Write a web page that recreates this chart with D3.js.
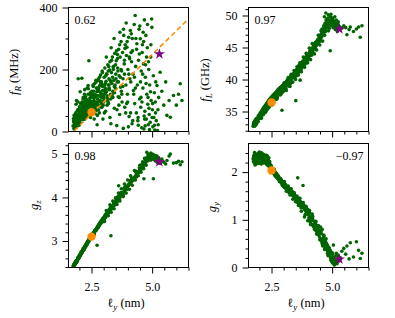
<!DOCTYPE html>
<html><head><meta charset="utf-8">
<script src="https://cdn.jsdelivr.net/npm/d3@7"></script>
<style>body{margin:0;background:#fff} text{font-family:"Liberation Serif","DejaVu Serif",serif;fill:#000}</style>
</head><body><svg id="c" width="395" height="318"></svg>
<script>
// shared x: l_y (nm)
const ly = [1.74,1.76,1.78,1.79,1.81,1.82,1.84,1.85,1.86,1.88,
1.89,1.90,1.92,1.93,1.95,1.96,1.97,1.99,2.00,2.01,
2.03,2.04,2.05,2.07,2.08,2.10,2.11,2.12,2.14,2.15,
2.17,2.18,2.19,2.21,2.22,2.24,2.25,2.26,2.28,2.29,
2.31,2.32,2.33,2.35,2.36,2.38,2.39,2.40,2.42,2.43,
2.45,2.46,2.48,2.49,2.51,2.52,2.54,2.55,2.57,2.58,
2.60,2.61,2.63,2.64,2.66,2.67,2.69,2.70,2.72,2.73,
2.75,2.76,2.78,2.79,2.81,2.82,2.84,2.85,2.87,2.88,
2.90,2.91,2.93,2.94,2.96,2.97,2.99,3.00,3.02,3.03,
3.05,3.06,3.08,3.10,3.12,3.13,3.15,3.17,3.19,3.20,
3.22,3.24,3.26,3.28,3.30,3.32,3.34,3.36,3.38,3.40,
3.42,3.44,3.46,3.48,3.50,3.52,3.54,3.56,3.58,3.60,
3.62,3.64,3.66,3.68,3.70,3.72,3.74,3.76,3.78,3.80,
3.83,3.85,3.87,3.89,3.92,3.94,3.96,3.98,4.00,4.03,
4.05,4.07,4.10,4.12,4.14,4.17,4.19,4.21,4.23,4.26,
4.28,4.30,4.32,4.35,4.37,4.39,4.41,4.44,4.46,4.48,
4.51,4.53,4.55,4.57,4.59,4.62,4.64,4.66,4.68,4.70,
4.72,4.74,4.76,4.78,4.80,4.82,4.84,4.86,4.88,4.90,
4.92,4.94,4.96,4.98,4.99,5.01,5.03,5.05,5.07,5.09,
5.11,5.13,5.15,5.17,5.20,5.22,5.24,5.27,5.33,5.40,
5.48,5.56,5.61,5.70,5.75,5.88,6.00,6.09,6.16,6.23,
1.77,1.83,1.80,1.87,1.91,1.78,1.94,1.85,1.98,1.82,
2.02,2.09,1.96,2.13,2.06,2.19,2.00,2.16,2.23,2.11,
2.27,2.34,2.21,2.41,2.30,2.47,2.37,2.24,2.44,2.32,
2.53,2.59,2.50,2.65,2.56,2.71,2.62,2.77,2.68,2.74,
2.80,2.86,2.83,2.92,2.89,2.98,2.95,3.04,3.01,2.78,
3.09,3.14,3.07,3.21,3.18,3.27,3.23,3.33,3.29,3.37,
3.41,3.47,3.53,3.45,3.59,3.63,3.57,3.69,3.75,3.66,
3.82,3.91,3.86,3.97,4.08,4.02,4.15,4.24,4.33,4.42,
4.47,4.58,4.63,4.71,4.77,4.83,4.89,4.95,5.02,5.10,
4.52,4.60,4.67,4.73,4.81,4.87,4.93,5.00,5.14,5.25,
1.76,1.81,1.86,1.90,1.94,1.99,2.03,2.07,2.12,2.16,
2.20,2.23,2.27,2.31,2.36,2.40,2.44,2.48,2.53,2.57,
2.61,2.65,2.70,2.74,2.78,2.83,2.87,2.91,2.95,3.00,
3.04,3.08,3.12,3.16,3.21,3.25,3.30,3.35,3.39,3.44,
3.51,3.57,3.64,3.72,3.79,3.88,3.95,4.04,4.13,4.20,
3.03,3.11,3.19,3.26,3.31,3.38,3.43,3.49,3.55,3.61,
3.67,3.73,3.81,3.86,3.93,3.99,4.06,4.11,4.18,4.27,
4.31,4.36,4.43,4.49,4.54,4.61,4.65,4.69,4.75,4.85,
1.79,1.84,1.88,1.93,1.97,2.02,2.06,2.10,2.15,2.18,
2.22,2.26,2.30,2.34,2.38,2.42,2.47,2.51,2.56,2.60,
2.64,2.71,2.79,2.86,2.93,3.01,3.07,3.14,3.22,3.29];

// f_R (MHz)
const fR = [18,35,52,12,28,45,22,60,38,100,
15,48,30,70,170,42,25,58,80,36,
65,50,90,44,72,172,55,85,38,105,
68,48,95,75,135,60,88,112,52,78,
98,140,66,84,120,58,228,92,74,108,
125,45,96,82,130,70,110,62,145,88,
100,40,155,75,118,92,160,68,128,22,
105,140,85,170,115,60,148,98,182,125,
78,160,110,195,132,40,150,95,175,120,
205,140,65,162,128,185,108,215,150,90,
170,135,225,118,25,190,155,240,130,200,
165,75,252,140,185,228,19,160,205,112,
265,180,55,240,143,290,195,95,255,170,
310,218,78,280,150,245,272,120,200,304,
48,235,326,160,315,25,260,185,132,345,
90,374,210,60,283,150,35,230,330,105,
299,78,195,12,255,140,218,8,360,65,
175,310,40,120,270,88,22,200,55,150,
30,240,100,363,336,70,15,180,45,125,
5,95,160,35,148,3,70,110,191,130,
85,160,52,100,46,116,85,120,154,100,
30,55,20,42,66,8,50,35,72,48,
62,40,28,88,75,58,45,110,70,95,
100,65,120,85,45,115,138,78,60,102,
95,130,58,112,150,88,72,135,165,52,
140,100,175,120,155,85,190,130,108,165,
180,115,155,210,95,165,140,230,120,175,
210,150,260,125,195,85,235,175,120,280,
330,60,230,290,170,15,225,120,300,45,
250,95,320,18,240,110,6,280,90,20,
160,280,50,215,345,75,128,45,60,22,
42,25,88,32,95,20,128,55,68,48,
82,108,62,90,148,78,100,68,120,85,
108,80,140,115,95,128,160,90,145,112,
150,125,185,100,138,198,160,118,208,145,
170,248,110,200,145,268,90,185,255,35,
60,240,195,45,270,110,300,215,70,160,
320,130,10,185,350,95,240,60,300,175,
140,265,20,340,110,185,290,40,155,225,
10,32,25,52,40,30,60,45,78,62,
40,65,55,95,72,48,88,55,78,118,
58,95,70,112,78,100,135,85,150,105];

// f_L (GHz)
const fL = [32.7,33.0,33.3,32.9,33.2,33.6,33.1,33.8,33.4,33.9,
33.3,33.7,33.5,34.0,34.3,33.8,34.1,34.4,34.2,34.6,
34.0,34.8,34.5,34.9,34.4,35.0,35.2,34.7,35.4,35.0,
35.5,35.1,35.7,35.3,35.8,35.6,36.0,35.4,36.1,35.9,
36.3,35.7,36.4,36.0,36.6,36.2,36.8,36.5,36.9,36.3,
37.0,36.7,37.2,36.6,37.3,37.0,37.4,36.9,37.6,37.1,
37.5,37.0,37.8,37.3,37.9,37.5,38.0,37.6,38.2,37.4,
38.0,38.4,37.9,38.5,38.2,38.0,38.7,38.3,38.8,38.5,
38.2,38.9,35.2,39.0,38.7,38.5,39.2,38.8,39.4,39.0,
39.5,39.2,38.9,39.6,39.3,39.8,39.5,40.0,39.7,39.4,
40.1,39.9,40.3,40.0,39.6,40.5,40.2,40.7,40.4,40.9,
40.6,40.3,41.1,40.8,36.7,41.0,40.6,41.3,40.9,41.5,
41.2,41.7,41.4,39.9,42.0,41.8,42.3,42.0,42.6,42.3,
42.9,42.5,43.0,42.7,43.3,43.0,43.6,43.2,43.8,43.4,
44.1,43.7,44.4,44.0,44.6,44.3,44.9,44.5,45.2,44.8,
45.4,45.0,45.7,45.3,46.0,45.6,46.2,45.8,46.5,46.1,
46.8,46.4,47.1,46.7,47.4,47.0,47.7,47.3,49.8,47.6,
48.3,50.4,48.0,48.6,49.5,48.2,50.1,48.8,49.2,48.5,
44.5,49.0,48.7,49.4,48.4,48.9,49.6,48.1,49.1,48.6,
49.8,47.8,48.8,49.3,48.3,47.5,48.6,47.9,48.2,48.0,
48.4,48.1,47.0,47.8,48.2,47.5,47.9,48.2,46.6,48.4,
33.2,33.5,32.7,33.0,33.9,33.3,33.4,33.6,34.2,32.8,
34.5,34.0,34.1,35.0,33.9,35.3,34.4,34.5,34.8,34.9,
35.0,36.0,35.4,35.7,35.8,36.0,36.2,34.9,36.5,35.3,
36.9,36.4,36.0,37.5,37.1,36.9,37.4,38.0,37.6,37.1,
38.1,37.6,38.3,38.6,37.7,38.9,38.0,39.3,38.2,38.0,
38.6,39.7,39.3,39.0,40.0,39.3,40.2,39.6,40.5,40.6,
40.8,40.2,41.5,41.1,40.9,42.1,41.7,41.4,42.7,42.2,
42.2,43.5,43.2,42.9,44.4,44.0,43.8,45.3,44.7,46.3,
46.9,47.9,47.2,48.8,49.0,49.6,48.0,50.2,49.3,48.3,
46.0,47.6,48.1,47.5,48.9,49.2,49.8,48.6,48.5,49.0,
33.1,33.4,33.0,33.9,33.4,34.4,34.6,34.1,35.1,34.6,
35.4,35.0,35.7,36.1,35.5,36.4,36.1,36.8,36.3,37.0,
37.3,36.9,37.8,37.3,38.0,38.4,37.9,38.5,38.9,38.4,
39.1,38.7,39.4,39.8,39.2,40.0,39.8,40.3,40.7,40.5,
41.4,40.8,42.3,41.6,42.9,42.4,43.9,43.2,44.8,44.1,
39.5,38.3,40.3,38.9,40.8,39.6,41.4,40.0,42.0,40.7,
42.6,41.2,43.5,41.9,44.1,42.6,44.9,43.1,45.6,44.0,
45.8,44.6,46.9,45.4,47.6,46.0,48.4,46.9,49.3,47.6,
33.0,33.4,33.5,33.8,33.9,34.3,34.2,34.7,34.8,35.2,
35.5,35.4,36.0,35.8,36.3,36.6,36.5,37.0,36.8,37.4,
37.1,37.7,37.8,38.3,38.4,38.9,39.1,39.5,39.6,40.1];

// g_z
const gz = [2.41,2.43,2.45,2.44,2.47,2.49,2.48,2.52,2.51,2.50,
2.52,2.55,2.56,2.58,2.59,2.60,2.61,2.63,2.64,2.66,
2.67,2.69,2.68,2.71,2.72,2.74,2.75,2.76,2.78,2.79,
2.80,2.82,2.83,2.85,2.86,2.87,2.89,2.90,2.92,2.93,
2.94,2.96,2.97,2.98,3.00,3.01,3.02,3.04,3.05,3.06,
3.08,3.07,3.10,3.11,3.13,3.12,3.14,3.16,3.17,3.18,
3.20,3.15,3.22,3.23,3.25,3.24,3.27,3.28,3.30,2.90,
3.32,3.33,3.34,3.36,3.37,3.35,3.39,3.40,3.42,3.43,
3.41,3.45,3.46,3.47,3.48,3.44,3.51,3.52,3.53,3.55,
3.56,3.57,3.54,3.60,3.61,3.63,3.64,3.66,3.67,3.65,
3.70,3.71,3.73,3.74,3.12,3.77,3.78,3.80,3.81,3.83,
3.84,3.82,3.87,3.88,3.90,3.91,3.89,3.93,3.95,3.96,
4.27,3.99,3.97,4.02,4.03,4.05,4.06,4.08,4.09,4.05,
4.13,4.14,4.16,4.18,4.19,4.21,4.22,4.20,4.27,4.28,
4.30,4.32,4.33,4.35,4.36,4.38,4.40,4.39,4.43,4.45,
4.46,4.48,4.50,4.47,4.53,4.55,4.57,4.58,4.60,4.62,
4.64,4.66,4.65,4.69,4.71,4.73,4.75,4.43,4.78,4.80,
4.82,4.85,4.84,5.04,4.88,4.90,4.93,4.95,4.92,4.97,
4.89,5.00,4.86,4.96,4.91,4.94,4.99,4.43,4.88,4.97,
4.90,4.84,4.93,4.87,4.95,4.80,4.86,4.91,4.78,4.88,
4.81,4.77,4.85,4.95,5.00,4.79,4.80,4.83,4.75,4.82,
2.46,2.47,2.49,2.55,2.54,2.43,2.62,2.53,2.61,2.50,
2.69,2.71,2.63,2.79,2.74,2.80,2.67,2.83,2.84,2.77,
2.88,2.99,2.86,3.01,2.95,3.10,2.97,2.89,3.07,2.92,
3.15,3.16,3.12,3.25,3.18,3.26,3.23,3.35,3.24,3.29,
3.38,3.39,3.41,3.44,3.46,3.50,3.51,3.58,3.49,3.31,
3.62,3.60,3.55,3.71,3.63,3.76,3.67,3.75,3.79,3.78,
3.88,3.85,3.97,3.83,4.02,3.96,3.99,4.09,4.06,4.07,
4.11,4.26,4.23,4.22,4.39,4.27,4.45,4.43,4.58,4.56,
4.68,4.76,4.70,4.87,4.91,4.98,4.86,5.02,4.97,4.92,
4.61,4.73,4.79,4.76,4.84,4.94,4.98,4.91,4.96,4.89,
2.44,2.46,2.52,2.54,2.60,2.64,2.66,2.72,2.77,2.78,
2.84,2.88,2.91,2.93,2.98,3.04,3.06,3.09,3.12,3.16,
3.19,3.24,3.26,3.31,3.33,3.38,3.41,3.46,3.47,3.54,
3.53,3.59,3.60,3.65,3.66,3.72,3.73,3.79,3.80,3.86,
3.94,3.98,3.98,4.11,4.08,4.20,4.19,4.31,4.34,4.42,
3.45,3.70,3.58,3.83,3.66,3.92,3.74,3.99,3.84,4.10,
3.92,4.20,4.02,4.31,4.10,4.40,4.19,4.50,4.28,4.62,
4.40,4.60,4.50,4.74,4.58,4.82,4.66,4.90,4.74,4.99,
2.46,2.50,2.53,2.57,2.62,2.65,2.70,2.73,2.78,2.81,
2.85,2.90,2.92,2.97,3.00,3.03,3.08,3.12,3.15,3.19,
3.22,3.29,3.35,3.42,3.45,3.50,3.58,3.62,3.68,3.72];

// g_y
const gy = [2.28,2.22,2.31,2.19,2.35,2.25,2.30,2.16,2.38,2.27,
2.22,2.33,2.20,2.29,2.36,2.24,2.40,2.18,2.31,2.26,
2.37,2.21,2.33,2.28,2.17,2.35,2.25,2.30,2.22,2.38,
2.27,2.19,2.32,2.24,2.36,2.28,2.20,2.31,2.25,2.17,
2.29,2.22,2.33,2.14,2.26,2.19,2.30,2.12,2.21,2.08,
2.16,2.10,2.05,2.13,2.02,2.08,2.04,2.07,1.99,2.03,
1.97,2.06,1.95,2.00,1.93,1.98,1.91,1.96,1.89,1.94,
1.92,1.87,1.90,1.85,1.88,1.86,1.83,1.87,1.80,1.84,
1.82,1.78,1.81,1.76,1.79,1.77,1.74,1.72,1.75,1.70,
1.73,1.68,1.71,1.66,1.69,1.64,1.67,1.62,1.65,1.60,
1.63,1.58,1.61,1.56,1.59,1.54,1.57,1.52,1.55,1.50,
1.53,1.48,1.51,1.46,1.49,1.44,1.47,1.42,1.88,1.40,
1.43,1.37,1.40,1.34,1.38,1.32,1.29,1.35,1.27,1.72,
1.24,1.30,1.21,1.27,1.18,1.24,1.15,1.22,1.12,1.18,
1.09,1.15,0.95,1.06,1.01,0.90,1.03,0.88,0.98,0.84,
0.94,0.80,0.91,0.76,0.87,0.72,0.83,0.68,0.79,0.64,
0.75,0.60,0.71,0.56,0.80,0.52,0.63,0.48,0.59,0.44,
0.55,0.40,0.51,0.37,0.47,0.33,0.43,0.29,0.39,0.26,
0.36,0.22,0.32,0.18,0.12,0.28,0.09,0.47,0.20,0.05,
0.15,0.24,0.11,0.30,0.08,0.18,0.26,0.13,0.21,0.34,
0.40,0.28,0.45,0.18,0.52,0.22,0.54,0.36,0.19,0.30,
2.33,2.24,2.41,2.18,2.29,2.36,2.21,2.27,2.34,2.15,
2.26,2.39,2.31,2.20,2.34,2.28,2.42,2.23,2.33,2.37,
2.30,2.18,2.26,2.14,2.35,2.09,2.24,2.32,2.11,2.21,
2.08,1.97,2.10,1.99,2.00,1.96,2.02,1.91,1.92,1.87,
1.84,1.86,1.82,1.76,1.85,1.77,1.72,1.74,1.69,1.91,
1.72,1.63,1.67,1.66,1.60,1.62,1.57,1.59,1.53,1.56,
1.55,1.44,1.47,1.51,1.35,1.40,1.44,1.29,1.33,1.38,
1.30,1.12,1.26,1.18,1.00,1.15,1.08,0.86,0.97,0.75,
0.70,0.52,0.58,0.38,0.45,0.25,0.35,0.15,0.22,0.07,
0.85,0.48,0.66,0.50,0.30,0.42,0.20,0.31,0.14,0.23,
2.24,2.38,2.29,2.21,2.32,2.25,2.19,2.41,2.27,2.30,
2.21,2.34,2.27,2.16,2.25,2.18,2.13,2.02,2.07,2.01,
1.99,1.92,1.97,1.88,1.92,1.80,1.86,1.79,1.73,1.78,
1.68,1.74,1.64,1.68,1.58,1.65,1.55,1.60,1.50,1.54,
1.42,1.37,1.45,1.25,1.31,1.10,1.23,1.04,0.99,1.07,
1.80,1.60,1.71,1.52,1.65,1.43,1.57,1.38,1.50,1.30,
1.45,1.18,1.36,1.06,1.28,0.98,1.20,0.90,1.12,0.80,
0.95,0.70,0.88,0.58,0.75,0.45,0.68,0.38,0.60,0.28,
2.30,2.23,2.36,2.27,2.18,2.32,2.25,2.39,2.29,2.22,
2.33,2.24,2.19,2.28,2.15,2.22,2.06,2.01,2.05,1.96,
1.98,1.90,1.89,1.81,1.80,1.72,1.70,1.63,1.62,1.55];

// highlighted samples
const refX = 2.5, starX = 5.3;
const refY = [62, 36.4, 3.1, 2.035];
const starY = [250, 47.9, 4.82, 0.17];
const corrLabels = ["0.62", "0.97", "0.98", "\u22120.97"];
// linear fit for f_R
const fitSlope = 76.6, fitIntercept = -134.8;

// ticks
const xMajor = [2.5, 5.0];
const xMinor = [2.0, 3.0, 3.5, 4.0, 4.5, 5.5, 6.0, 6.5];
const yMajors = [[0,200,400],[35,40,45,50],[3,4,5],[0,1,2]];
const yMinors = [[50,100,150,250,300,350],
  [32,33,34,36,37,38,39,41,42,43,44,46,47,48,49,51],
  [2.4,2.6,2.8,3.2,3.4,3.6,3.8,4.2,4.4,4.6,4.8,5.2],
  [0.2,0.4,0.6,0.8,1.2,1.4,1.6,1.8,2.2,2.4]];
const yDomains = [[0,400],[31.88,51.25],[2.39,5.24],[0,2.6]];

const W = 120, H = 124;
const pos = [[68,7],[248,7],[68,143],[248,143]];
const series = [fR, fL, gz, gy];
const svg = d3.select('#c');
const GREEN = '#006400', ORANGE = '#ff8c00', PURPLE = '#800080';
const FONT = '"Liberation Serif","DejaVu Serif",serif';

const x = d3.scaleLinear().domain([1.55, 6.5]).range([0, W]);
const defs = svg.append('defs');

series.forEach((vals, i) => {
  const [px, py] = pos[i];
  const g = svg.append('g').attr('transform', `translate(${px + 0.5},${py + 0.5})`);
  const y = d3.scaleLinear().domain(yDomains[i]).range([H, 0]);
  defs.append('clipPath').attr('id', 'cp' + i).append('rect').attr('width', W).attr('height', H);
  const plot = g.append('g').attr('clip-path', `url(#cp${i})`);

  plot.selectAll('circle.pt').data(ly.map((lx, k) => [lx, vals[k]])).join('circle')
    .attr('class', 'pt').attr('cx', d => x(d[0])).attr('cy', d => y(d[1]))
    .attr('r', 1.8).attr('fill', GREEN);

  if (i === 0) {
    const xd = x.domain();
    plot.append('line')
      .attr('x1', x(xd[0])).attr('y1', y(fitSlope * xd[0] + fitIntercept))
      .attr('x2', x(xd[1])).attr('y2', y(fitSlope * xd[1] + fitIntercept))
      .attr('stroke', ORANGE).attr('stroke-width', 1.6).attr('stroke-dasharray', '5,3');
  }
  plot.append('circle').attr('cx', x(refX)).attr('cy', y(refY[i])).attr('r', 4.2).attr('fill', ORANGE);
  plot.append('path').attr('d', d3.symbol(d3.symbolStar, 38)())
    .attr('transform', `translate(${x(starX)},${y(starY[i])})`).attr('fill', PURPLE);

  g.append('g').call(d3.axisLeft(y).tickValues(yMajors[i]).tickSize(6).tickPadding(5).tickFormat(d => d));
  g.append('g').call(d3.axisLeft(y).tickValues(yMinors[i]).tickSize(3).tickFormat(''));
  g.append('g').attr('transform', `translate(0,${H})`)
    .call(d3.axisBottom(x).tickValues(xMajor).tickSize(6).tickPadding(9).tickFormat(i >= 2 ? d3.format('.1f') : ''));
  g.append('g').attr('transform', `translate(0,${H})`)
    .call(d3.axisBottom(x).tickValues(xMinor).tickSize(3).tickFormat(''));
  g.selectAll('.domain').remove();
  g.selectAll('.tick line').attr('stroke', '#000');
  g.selectAll('.tick text').style('font-size', '12px').style('font-family', FONT);

  g.append('rect').attr('width', W).attr('height', H).attr('fill', 'none').attr('stroke', '#000').attr('stroke-width', 1);

  const right = i === 3;
  g.append('text').attr('x', right ? W - 5 : 6).attr('y', 16)
    .attr('text-anchor', right ? 'end' : 'start').style('font-size', '12px').style('font-family', FONT).text(corrLabels[i]);
});

function ylabel(cx, cy, main, sub, rest) {
  const t = svg.append('text').attr('transform', `translate(${cx},${cy}) rotate(-90)`)
    .attr('text-anchor', 'middle').style('font-size', '12.5px').style('font-family', FONT);
  t.append('tspan').attr('font-style', 'italic').text(main);
  t.append('tspan').attr('font-style', 'italic').style('font-size', '9px').attr('dy', 3).text(sub);
  if (rest) t.append('tspan').attr('dy', -3).text('\u00a0' + rest);
}
ylabel(18, 72, 'f', 'R', '(MHz)');
ylabel(209, 80, 'f', 'L', '(GHz)');
ylabel(38, 205, 'g', 'z', null);
ylabel(216, 207, 'g', 'y', null);

function xlabel(cx) {
  const t = svg.append('text').attr('x', cx).attr('y', 307).attr('text-anchor', 'middle')
    .style('font-size', '12.5px').style('font-family', FONT);
  t.append('tspan').text('\u2113');
  t.append('tspan').attr('font-style', 'italic').style('font-size', '9px').attr('dy', 3).text('y');
  t.append('tspan').attr('dy', -3).text('\u00a0(nm)');
}
xlabel(126);
xlabel(306);
</script></body></html>
